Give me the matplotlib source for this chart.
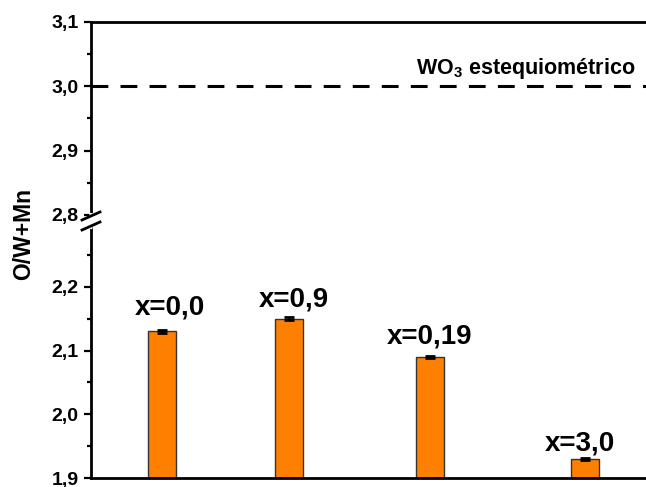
#libraries for plotting
import matplotlib
matplotlib.use("Agg")
import matplotlib.pyplot as plt
from matplotlib.lines import Line2D

plt.rcParams["font.family"] = "Liberation Sans"
plt.rcParams["font.weight"] = "bold"
plt.rcParams["mathtext.fontset"] = "custom"
plt.rcParams["mathtext.rm"] = "Liberation Sans:bold"
plt.rcParams["mathtext.it"] = "Liberation Sans:bold"
plt.rcParams["mathtext.bf"] = "Liberation Sans:bold"

#data
labels = ["x=0,0", "x=0,9", "x=0,19", "x=3,0"]
positions = [0.0, 0.9, 1.9, 3.0]
ratio = [2.13, 2.15, 2.09, 1.93]
ratio_err = [0.002, 0.002, 0.002, 0.002]
stoich = 3.0
stoich_label = "WO$_3$ estequiométrico"
low_ticks = [1.9, 2.0, 2.1, 2.2]
low_ticklabels = ["1,9", "2,0", "2,1", "2,2"]
high_ticks = [2.8, 2.9, 3.0, 3.1]
high_ticklabels = ["2,8", "2,9", "3,0", "3,1"]

# hand placement of the bar labels (pixels: right, up from bar top)
label_dx = [8, 5, -1, -5]
label_dy = [17, 12, 13, 8]

W, H = 646, 487
fig = plt.figure(figsize=(W / 100, H / 100), dpi=100)

left = 91 / W
right = 1.002
y_top = 1 - 22 / H
y_brk = 1 - 215.5 / H
y_bot = 1 - 478 / H

ax_hi = fig.add_axes([left, y_brk, right - left, y_top - y_brk])
ax_lo = fig.add_axes([left, y_bot, right - left, y_brk - y_bot], sharex=ax_hi)

orange = "#FF8000"
for ax in (ax_hi, ax_lo):
    ax.bar(positions, ratio, width=0.2, color=orange, edgecolor="#333333",
           linewidth=1.0, zorder=2)
    ax.errorbar(positions, ratio, yerr=ratio_err, fmt="none", ecolor="black",
                elinewidth=1.5, capsize=3.6, capthick=2.0, zorder=3)
    ax.spines["right"].set_visible(False)
    for s in ("left", "top", "bottom"):
        ax.spines[s].set_linewidth(2.0)
    ax.tick_params(axis="y", which="major", direction="out", length=5,
                   width=1.6, labelsize=14, pad=4)
    ax.tick_params(axis="y", which="minor", direction="out", length=3,
                   width=1.6)
    ax.tick_params(axis="x", bottom=False, labelbottom=False)

ax_hi.set_xlim(-0.504, 3.44)

ax_lo.set_ylim(1.9, 1.9 + (478 - 215.5) / 637)
ax_hi.set_ylim(2.8 - 0.5 / 640, 3.1)

ax_lo.spines["top"].set_visible(False)
ax_hi.spines["bottom"].set_visible(False)

ax_lo.set_yticks(low_ticks)
ax_lo.set_yticklabels(low_ticklabels, fontweight="bold")
ax_lo.set_yticks([1.95, 2.05, 2.15, 2.25], minor=True)
ax_hi.set_yticks(high_ticks)
ax_hi.set_yticklabels(high_ticklabels, fontweight="bold")
ax_hi.set_yticks([2.85, 2.95, 3.05], minor=True)

# bar labels
for p, v, lab, dx, dy in zip(positions, ratio, labels, label_dx, label_dy):
    ax_lo.annotate(lab, (p, v), xytext=(dx * 0.72, dy * 0.72),
                   textcoords="offset points", ha="center", va="baseline",
                   fontsize=20, fontweight="bold")

# stoichiometric reference line
ax_hi.axhline(stoich, color="black", lw=2.2, dashes=(5.5, 4), zorder=1)
ax_hi.text(3.355, stoich + 12 / 640, stoich_label, ha="right", va="baseline",
           fontsize=15.5, fontweight="bold")

fig.text(0.036, 1 - 234 / H, "O/W+Mn", rotation=90, ha="center", va="center",
         fontsize=16.5, fontweight="bold")

# axis break marks
yb = 1 - 221 / H
fig.add_artist(Line2D([left - 1 / W, left + 1 / W], [yb - 5 / H, yb + 5 / H],
                      color="white", lw=4, transform=fig.transFigure))
for dy in (-5, 5):
    y0 = yb + dy / H
    fig.add_artist(Line2D([left - 9 / W, left + 9 / W],
                          [y0 - 4 / H, y0 + 4 / H], color="black", lw=2.0,
                          transform=fig.transFigure))

fig.savefig("out.png", dpi=100)
